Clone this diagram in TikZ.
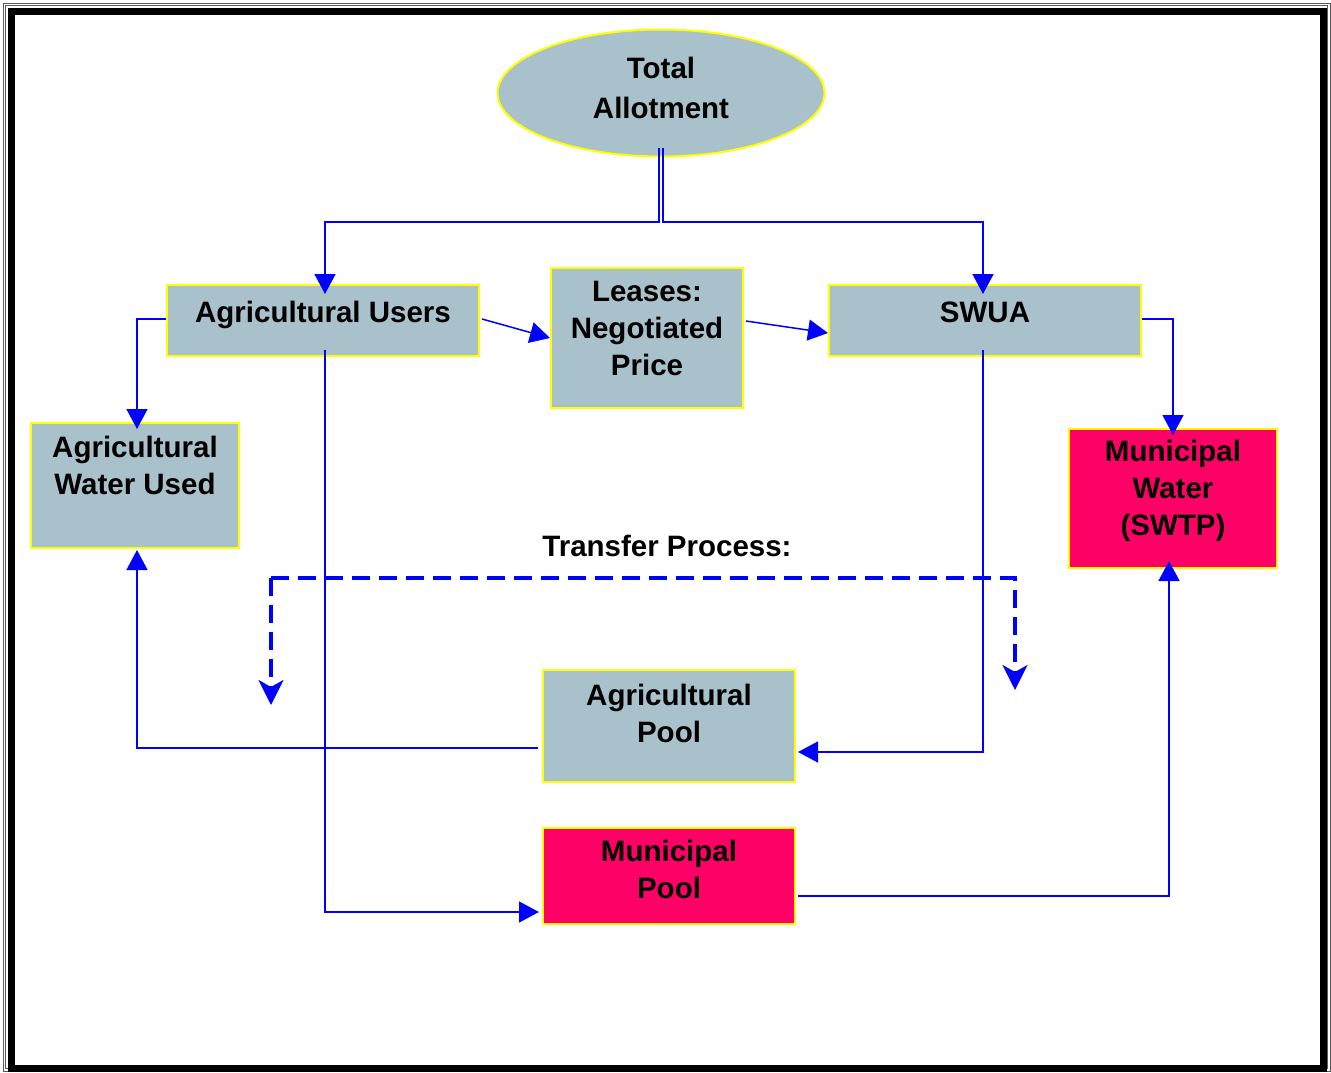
\documentclass[tikz,border=0pt]{standalone}
\usepackage{fontspec}
\setmainfont{Liberation Sans}
\usetikzlibrary{arrows.meta,shapes.geometric}
\definecolor{boxblue}{HTML}{A9C1CB}
\definecolor{boxred}{HTML}{FF0066}
\definecolor{lineblue}{HTML}{0000FF}
\definecolor{edgeyellow}{HTML}{FFFF00}
\tikzset{
  gbox/.style={draw=edgeyellow, line width=2pt, fill=boxblue, rectangle, inner sep=0pt},
  rbox/.style={draw=edgeyellow, line width=2pt, fill=boxred, rectangle, inner sep=0pt},
  lbl/.style={font=\bfseries\fontsize{29.5}{37}\selectfont, align=center, inner sep=0pt, text=black},
  conn/.style={draw=lineblue, line width=1.5pt, -{Triangle[length=20pt,width=21pt]}},
  dashconn/.style={draw=lineblue, line width=3.2pt, dash pattern=on 18pt off 9pt,
     -{Stealth[length=25pt,width=25pt,inset=7pt]}}
}
\begin{document}
\begin{tikzpicture}[x=1pt,y=-1pt]
\useasboundingbox (0,0) rectangle (1331,1072);
\fill[white] (0,0) rectangle (1331,1072);
% frame
\draw[gray!70!black, line width=1pt] (3,3) rectangle (1330,1071);
\draw[gray!70!black, line width=0.8pt] (5.5,5.5) rectangle (1327,1068);
\draw[black, line width=7.5pt] (11.5,11.5) rectangle (1323.5,1068.5);

% nodes
\node[ellipse, draw=edgeyellow, line width=2pt, fill=boxblue, minimum width=327pt, minimum height=127pt, inner sep=0pt] (tot) at (661,93) {};
\node[lbl, font=\bfseries\fontsize{29.5}{40}\selectfont] (totT) at (661,88) {Total\\Allotment};

\node[gbox, minimum width=312pt, minimum height=71pt] (au) at (323,320.5) {};
\node[lbl] (auT) at (323,314.5) {Agricultural Users};

\node[gbox, minimum width=192pt, minimum height=140pt] (le) at (647,338) {};
\node[lbl] (leT) at (647,328) {Leases:\\Negotiated\\Price};

\node[gbox, minimum width=312pt, minimum height=71pt] (sw) at (985,320.5) {};
\node[lbl] (swT) at (985,312) {SWUA};

\node[gbox, minimum width=208pt, minimum height=125pt] (awu) at (135,485.5) {};
\node[lbl] (awuT) at (135,465) {Agricultural\\Water Used};

\node[rbox, minimum width=208pt, minimum height=139pt] (mw) at (1173,498.5) {};
\node[lbl] (mwT) at (1173,491) {Municipal\\Water\\(SWTP)};

\node[lbl] (tp) at (667,546) {Transfer Process:};

\node[gbox, minimum width=252pt, minimum height=112pt] (ap) at (669,726) {};
\node[lbl] (apT) at (669,713) {Agricultural\\Pool};

\node[rbox, minimum width=252pt, minimum height=96pt] (mp) at (669,876) {};
\node[lbl] (mpT) at (669,869) {Municipal\\Pool};

% connectors from total allotment (double line)
\draw[conn] ([xshift=-2pt]tot.south) ++(0,-10) -- (659,222) -- (325,222) -- ([xshift=2pt,yshift=-10pt]au.north);
\draw[conn] ([xshift=2pt]tot.south) ++(0,-10) -- (663,222) -- (983,222) -- ([xshift=-2pt,yshift=-10pt]sw.north);

% ag users -> ag water used
\draw[conn] ([yshift=1.5pt]au.west) -- (137,319) -- ([xshift=2pt,yshift=-7pt]awu.north);
% ag users -> leases -> swua
\draw[conn] ([xshift=2pt,yshift=1.5pt]au.east) -- (le.west);
\draw[conn] ([xshift=2pt,yshift=17pt]le.east) -- ([yshift=-12.5pt]sw.west);
% swua -> municipal water
\draw[conn] ([yshift=1.5pt]sw.east) -- (1173,319) -- ([yshift=-7pt]mw.north);
% ag users -> municipal pool
\draw[conn] (325,350) -- (325,912) -- ([xshift=-3pt,yshift=-36pt]mp.west);
% swua -> ag pool
\draw[conn] (983,350) -- (983,752) -- ([xshift=2pt,yshift=-26pt]ap.east);
% ag pool -> ag water used
\draw[conn] ([xshift=-4pt,yshift=-22pt]ap.west) -- (137,748) -- ([xshift=2pt,yshift=-1pt]awu.south);
% municipal pool -> municipal water
\draw[conn] ([xshift=2pt,yshift=-20pt]mp.east) -- (1169,896) -- ([xshift=-4pt,yshift=8pt]mw.south);

% transfer process dashed
\coordinate (dl) at (271,705);
\coordinate (dr) at (1015,690);
\draw[dashconn] (271,578) -- (dl);
\draw[dashconn] (271,578) -- (1015,578) -- (dr);
\end{tikzpicture}
\end{document}
